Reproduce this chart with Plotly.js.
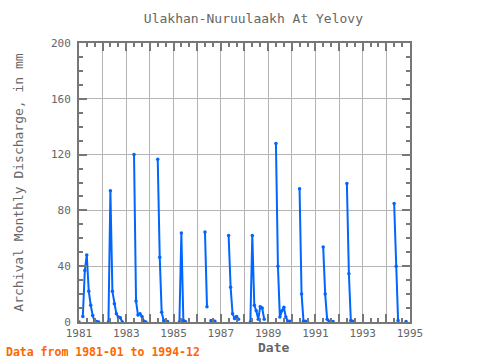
<!DOCTYPE html>
<html>
<head>
<meta charset="utf-8">
<script src="https://cdn.plot.ly/plotly-3.0.1.min.js"></script>
<style>html,body{margin:0;padding:0;background:#fff;}#chart{width:480px;height:360px;}</style>
</head>
<body>
<div id="chart"></div>
<script>
// Monthly values (Jan..Dec), null = missing
const years = [1981,1982,1983,1984,1985,1986,1987,1988,1989,1990,1991,1992,1993,1994];
const v1981 = [0, null, 4, 37, 48, 22, 12, 4.6, 0.5, 0.3, 0, null];
const v1982 = [null, null, null, 0, 94, 22, 13, 6, 3.5, 3, 0, null];
const v1983 = [null, null, null, null, 120, 15, 5, 6, 4, 0.5, 0, null];
const v1984 = [null, null, null, null, 116.7, 46.5, 7, 1, 0.5, 0.3, null, null];
const v1985 = [null, null, null, 0, 63.8, 1, 0.3, null, null, null, null, null];
const v1986 = [null, null, null, null, 64.5, 11, null, 1, 1, 0.5, null, null];
const v1987 = [null, null, null, null, 62, 25, 6, 2.5, 4, 2, null, null];
const v1988 = [null, null, null, 0, 62, 12, 8, 2, 11, 10, 2, null];
const v1989 = [null, null, null, null, 128, 40, 3.5, 8, 10.6, 3.5, 0.5, 0.5];
const v1990 = [null, null, null, null, 95.6, 20, 0.5, 0.5, 0.3, null, null, null];
const v1991 = [null, null, null, null, 53.7, 20, 2, 0.5, 0.3, 0.3, null, null];
const v1992 = [null, null, null, null, 99.2, 34.6, 1, 0.5, null, null, null, null];
const v1993 = [null, null, null, null, null, null, null, null, null, null, null, null];
const v1994 = [null, null, null, null, 84.9, 40, 1, null, null, null, 0.3, null];
const yearValues = [v1981,v1982,v1983,v1984,v1985,v1986,v1987,v1988,v1989,v1990,v1991,v1992,v1993,v1994];
const monthCodes = ['01','02','03','04','05','06','07','08','09','10','11','12'];
const tickYears = ['1981','1982','1983','1984','1985','1986','1987','1988','1989','1990','1991','1992','1993','1994','1995'];
const tickLabels = ['1981','','1983','','1985','','1987','','1989','','1991','','1993','','1995'];

const dates = [], vals = [];
years.forEach((y, i) => {
  yearValues[i].forEach((v, k) => { dates.push(y + '-' + monthCodes[k] + '-01'); vals.push(v); });
});

const mono = 'DejaVu Sans Mono, monospace';
const axisCommon = {
  showline: true, linecolor: '#777', linewidth: 2, mirror: 'allticks',
  ticks: 'inside', tickcolor: '#777', tickwidth: 2,
  gridcolor: '#b4b4b4', gridwidth: 1, zeroline: false,
  tickfont: {family: mono, size: 11, color: '#666'}
};

const trace = {
  x: dates, y: vals, type: 'scatter', mode: 'lines+markers',
  line: {color: '#0066ff', width: 2},
  marker: {color: '#0066ff', size: 3.5},
  connectgaps: false, hoverinfo: 'x+y'
};

const layout = {
  width: 480, height: 360,
  margin: {l: 79, r: 70, t: 43, b: 38},
  paper_bgcolor: '#fff', plot_bgcolor: '#fff',
  showlegend: false,
  title: {text: 'Ulakhan-Nuruulaakh At Yelovy', x: 0.528, xref: 'container', xanchor: 'center',
          y: 0.95, yref: 'container', yanchor: 'middle',
          font: {family: mono, size: 13, color: '#666'}},
  xaxis: Object.assign({}, axisCommon, {
    type: 'date', range: ['1981-01-01', '1995-01-01'],
    tickmode: 'array', tickvals: tickYears.map(y => y + '-01-01'), ticktext: tickLabels,
    ticklen: 8,
    minor: {dtick: 'M4', tick0: '1981-01-01', ticks: 'inside', ticklen: 4, tickcolor: '#777', tickwidth: 2, showgrid: false}
  }),
  yaxis: Object.assign({}, axisCommon, {
    range: [0, 200], dtick: 40, tick0: 0, ticklen: 8,
    ticklabelstandoff: 4,
    minor: {dtick: 10, ticks: 'inside', ticklen: 4, tickcolor: '#777', tickwidth: 2, showgrid: false},
    title: {text: 'Archival Monthly Discharge, in mm', standoff: 24,
            font: {family: mono, size: 13, color: '#666'}}
  }),
  annotations: [
    {text: '<b>Date</b>', xref: 'paper', yref: 'paper', x: 0.589, y: -0.09, xanchor: 'center', yanchor: 'middle',
     showarrow: false, font: {family: mono, size: 13, color: '#666'}},
    {text: '<b>Data from 1981-01 to 1994-12</b>', xref: 'paper', yref: 'paper', x: -0.226, y: -0.1075,
     xanchor: 'left', yanchor: 'middle', showarrow: false, font: {family: mono, size: 11.5, color: '#ff6600'}}
  ]
};

Plotly.newPlot('chart', [trace], layout, {displayModeBar: false, staticPlot: true});
</script>
</body>
</html>
